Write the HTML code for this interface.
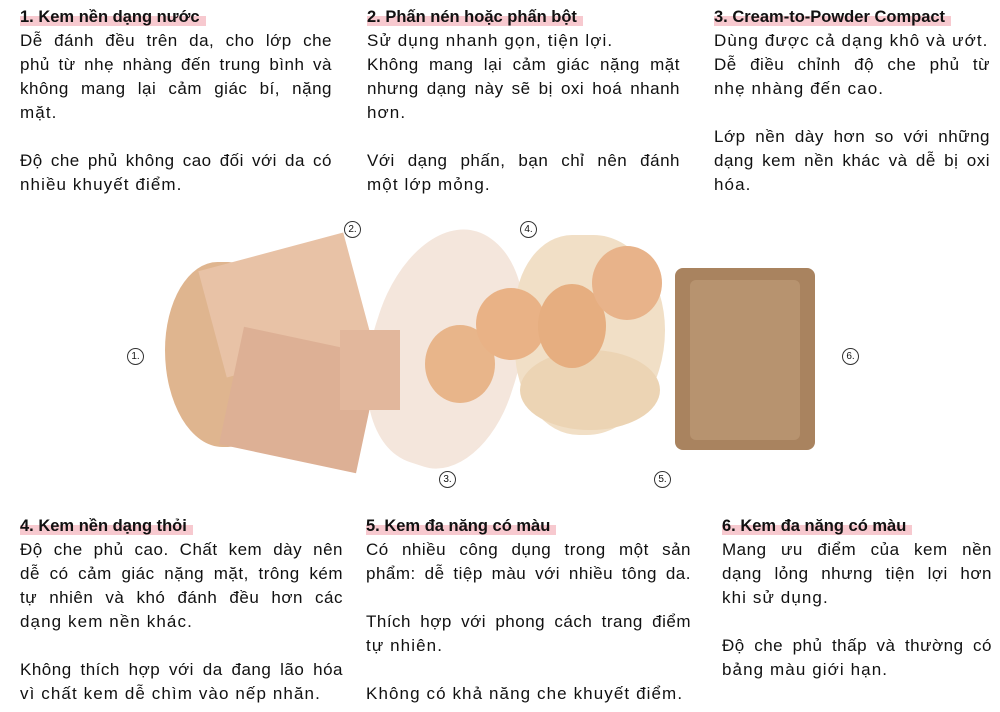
<!DOCTYPE html>
<html><head><meta charset="utf-8"><style>
body{margin:0;width:1000px;height:712px;background:#fff;position:relative;overflow:hidden;font-family:"Liberation Sans","DejaVu Sans",sans-serif;color:#111}
.c{position:absolute;font-size:17px;line-height:24px}
.c h{display:inline;font-weight:bold;font-size:16.5px;background:linear-gradient(transparent 45%,#f7c9cf 45%);padding-right:6px}
.c div{height:24px;white-space:nowrap;letter-spacing:1.1px}
.c .j{text-align:justify;text-align-last:justify;white-space:normal;letter-spacing:0.5px}
.n{position:absolute;width:15px;height:15px;border:1px solid #333;border-radius:50%;font-size:10px;line-height:15px;text-align:center}
.b{position:absolute}
</style></head><body>
<div class="c" style="left:20px;top:5px;width:312px"><h>1. Kem nền dạng nước</h>
<div class="j">Dễ đánh đều trên da, cho lớp che</div>
<div class="j">phủ từ nhẹ nhàng đến trung bình và</div>
<div class="j">không mang lại cảm giác bí, nặng</div>
<div>mặt.</div><div></div>
<div class="j">Độ che phủ không cao đối với da có</div>
<div>nhiều khuyết điểm.</div></div>

<div class="c" style="left:367px;top:5px;width:313px"><h>2. Phấn nén hoặc phấn bột</h>
<div>Sử dụng nhanh gọn, tiện lợi.</div>
<div class="j">Không mang lại cảm giác nặng mặt</div>
<div class="j">nhưng dạng này sẽ bị oxi hoá nhanh</div>
<div>hơn.</div><div></div>
<div class="j">Với dạng phấn, bạn chỉ nên đánh</div>
<div>một lớp mỏng.</div></div>

<div class="c" style="left:714px;top:5px;width:276px"><h>3. Cream-to-Powder Compact</h>
<div>Dùng được cả dạng khô và ướt.</div>
<div class="j">Dễ điều chỉnh độ che phủ từ</div>
<div>nhẹ nhàng đến cao.</div><div></div>
<div class="j">Lớp nền dày hơn so với những</div>
<div class="j">dạng kem nền khác và dễ bị oxi</div>
<div>hóa.</div></div>

<div class="c" style="left:20px;top:514px;width:323px"><h>4. Kem nền dạng thỏi</h>
<div class="j">Độ che phủ cao. Chất kem dày nên</div>
<div class="j">dễ có cảm giác nặng mặt, trông kém</div>
<div class="j">tự nhiên và khó đánh đều hơn các</div>
<div>dạng kem nền khác.</div><div></div>
<div class="j">Không thích hợp với da đang lão hóa</div>
<div>vì chất kem dễ chìm vào nếp nhăn.</div></div>

<div class="c" style="left:366px;top:514px;width:325px"><h>5. Kem đa năng có màu</h>
<div class="j">Có nhiều công dụng trong một sản</div>
<div class="j">phẩm: dễ tiệp màu với nhiều tông da.</div><div></div>
<div class="j">Thích hợp với phong cách trang điểm</div>
<div>tự nhiên.</div><div></div>
<div>Không có khả năng che khuyết điểm.</div></div>

<div class="c" style="left:722px;top:514px;width:270px"><h>6. Kem đa năng có màu</h>
<div class="j">Mang ưu điểm của kem nền</div>
<div class="j">dạng lỏng nhưng tiện lợi hơn</div>
<div>khi sử dụng.</div><div></div>
<div class="j">Độ che phủ thấp và thường có</div>
<div>bảng màu giới hạn.</div></div>

<div class="b" style="left:372px;top:228px;width:150px;height:240px;background:#f4e6dc;border-radius:45% 55% 40% 50%;transform:rotate(18deg)"></div>
<div class="b" style="left:515px;top:235px;width:150px;height:200px;background:#f1dfc6;border-radius:40% 50% 55% 45%"></div>
<div class="b" style="left:520px;top:350px;width:140px;height:80px;background:#ecd4b4;border-radius:50%"></div>
<div class="b" style="left:165px;top:262px;width:110px;height:185px;background:#dfb58f;border-radius:50% 45% 45% 55%"></div>
<div class="b" style="left:210px;top:250px;width:150px;height:110px;background:#e8c2a6;transform:rotate(-15deg)"></div>
<div class="b" style="left:230px;top:340px;width:140px;height:120px;background:#ddb095;transform:rotate(12deg)"></div>
<div class="b" style="left:340px;top:330px;width:60px;height:80px;background:#e2b79c"></div>
<div class="b" style="left:425px;top:325px;width:70px;height:78px;background:#e8b58a;border-radius:50%"></div>
<div class="b" style="left:476px;top:288px;width:70px;height:72px;background:#e9b286;border-radius:50%"></div>
<div class="b" style="left:538px;top:284px;width:68px;height:84px;background:#e6ae80;border-radius:50%"></div>
<div class="b" style="left:592px;top:246px;width:70px;height:74px;background:#e8b38a;border-radius:50%"></div>
<div class="b" style="left:675px;top:268px;width:140px;height:182px;background:#a9835f;border-radius:8px"></div>
<div class="b" style="left:690px;top:280px;width:110px;height:160px;background:#be9a76;border-radius:6px;opacity:.7"></div>

<div class="n" style="left:344px;top:221px">2.</div>
<div class="n" style="left:520px;top:221px">4.</div>
<div class="n" style="left:127px;top:348px">1.</div>
<div class="n" style="left:842px;top:348px">6.</div>
<div class="n" style="left:439px;top:471px">3.</div>
<div class="n" style="left:654px;top:471px">5.</div>
</body></html>
